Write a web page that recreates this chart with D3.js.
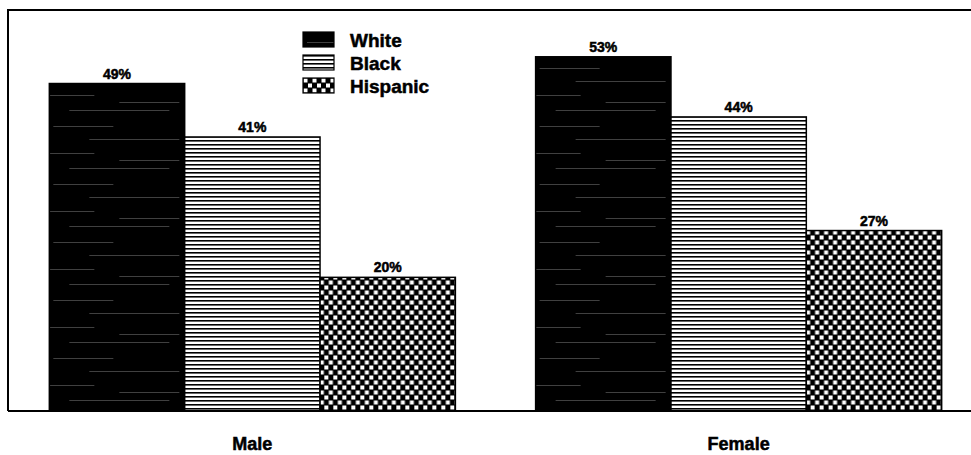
<!DOCTYPE html>
<html>
<head>
<meta charset="utf-8">
<script src="https://cdn.jsdelivr.net/npm/d3@7"></script>
<style>
  html, body { margin: 0; padding: 0; background: #fff; }
  svg { display: block; }
  text { font-family: "Liberation Sans Narrow", "Liberation Sans", Arial, sans-serif; font-weight: bold; fill: #000; stroke: #000; stroke-width: 0.5; }
</style>
</head>
<body>
<svg id="chart" width="971" height="455"></svg>
<script>
// Share of each group, by sex
const groups = ["Male", "Female"];
const races = ["White", "Black", "Hispanic"];
const maleValues = [49, 41, 20];
const femaleValues = [53, 44, 27];
const valuesByGroup = { Male: maleValues, Female: femaleValues };

const width = 971, height = 455;
const frame = { left: 8, top: 10, right: 983, bottom: 411 };

const svg = d3.select("#chart");
const defs = svg.append("defs");

// Solid dark fill with a few faint horizontal streaks
const pWhite = defs.append("pattern")
  .attr("id", "pat-white").attr("patternUnits", "userSpaceOnUse")
  .attr("width", 136).attr("height", 58);
pWhite.append("rect").attr("width", 136).attr("height", 58).attr("fill", "#000");
[[4, 10, 60], [40, 23, 90], [0, 37, 45], [70, 44, 60], [20, 52, 100]].forEach(([x, y, w]) => {
  pWhite.append("rect").attr("x", x).attr("y", y).attr("width", w).attr("height", 1)
    .attr("fill", "#fff").attr("opacity", 0.25);
});

// Horizontal line hatch
const pBlack = defs.append("pattern")
  .attr("id", "pat-black").attr("patternUnits", "userSpaceOnUse")
  .attr("width", 8).attr("height", 4);
pBlack.append("rect").attr("width", 8).attr("height", 4).attr("fill", "#fff");
pBlack.append("rect").attr("y", 0).attr("width", 8).attr("height", 1.6).attr("fill", "#000");

// Staggered white squares on black
const pHisp = defs.append("pattern")
  .attr("id", "pat-hisp").attr("patternUnits", "userSpaceOnUse")
  .attr("width", 9).attr("height", 10);
pHisp.append("rect").attr("width", 9).attr("height", 10).attr("fill", "#000");
pHisp.append("rect").attr("x", 0.5).attr("y", 0.5).attr("width", 4).attr("height", 4).attr("fill", "#fff");
pHisp.append("rect").attr("x", 5).attr("y", 5.5).attr("width", 4).attr("height", 4).attr("fill", "#fff");

const fills = { White: "url(#pat-white)", Black: "url(#pat-black)", Hispanic: "url(#pat-hisp)" };

const x0 = d3.scaleBand().domain(groups)
  .range([frame.left, frame.right]).paddingInner(0.165).paddingOuter(0.085);
const x1 = d3.scaleBand().domain(races).range([0, x0.bandwidth()]).padding(0);
const y = d3.scaleLinear().domain([0, 60]).range([frame.bottom, frame.top]);

// Bars
const g = svg.append("g");
groups.forEach(grp => {
  const gg = g.append("g").attr("transform", `translate(${x0(grp)},0)`);
  const data = races.map((r, i) => ({ race: r, value: valuesByGroup[grp][i] }));
  gg.selectAll("rect").data(data).join("rect")
    .attr("x", d => x1(d.race))
    .attr("y", d => y(d.value))
    .attr("width", x1.bandwidth())
    .attr("height", d => y(0) - y(d.value))
    .attr("fill", d => fills[d.race])
    .attr("stroke", "#000").attr("stroke-width", 1.5);
  gg.selectAll("text.val").data(data).join("text")
    .attr("class", "val")
    .attr("x", d => x1(d.race) + x1.bandwidth() / 2)
    .attr("y", d => y(d.value) - 5)
    .attr("text-anchor", "middle")
    .attr("font-size", 14)
    .text(d => d.value + "%");
});

// Frame
svg.append("path")
  .attr("d", `M${frame.left},${frame.bottom} V${frame.top} H${width}`)
  .attr("fill", "none").attr("stroke", "#000").attr("stroke-width", 2);
svg.append("line")
  .attr("x1", frame.left).attr("x2", width)
  .attr("y1", frame.bottom).attr("y2", frame.bottom)
  .attr("stroke", "#000").attr("stroke-width", 2);

// Group labels
svg.append("g").selectAll("text").data(groups).join("text")
  .attr("x", d => x0(d) + x0.bandwidth() / 2)
  .attr("y", 450)
  .attr("text-anchor", "middle")
  .attr("font-size", 18)
  .text(d => d);

// Legend
const legend = svg.append("g").attr("transform", "translate(303,32)");
const li = legend.selectAll("g").data(races).join("g")
  .attr("transform", (d, i) => `translate(0,${i * 23})`);
li.append("rect").attr("width", 31).attr("height", 15)
  .attr("fill", d => fills[d]).attr("stroke", "#000").attr("stroke-width", 1.2);
li.append("text").attr("x", 47).attr("y", 15)
  .attr("font-size", 19)
  .text(d => d);
</script>
</body>
</html>
